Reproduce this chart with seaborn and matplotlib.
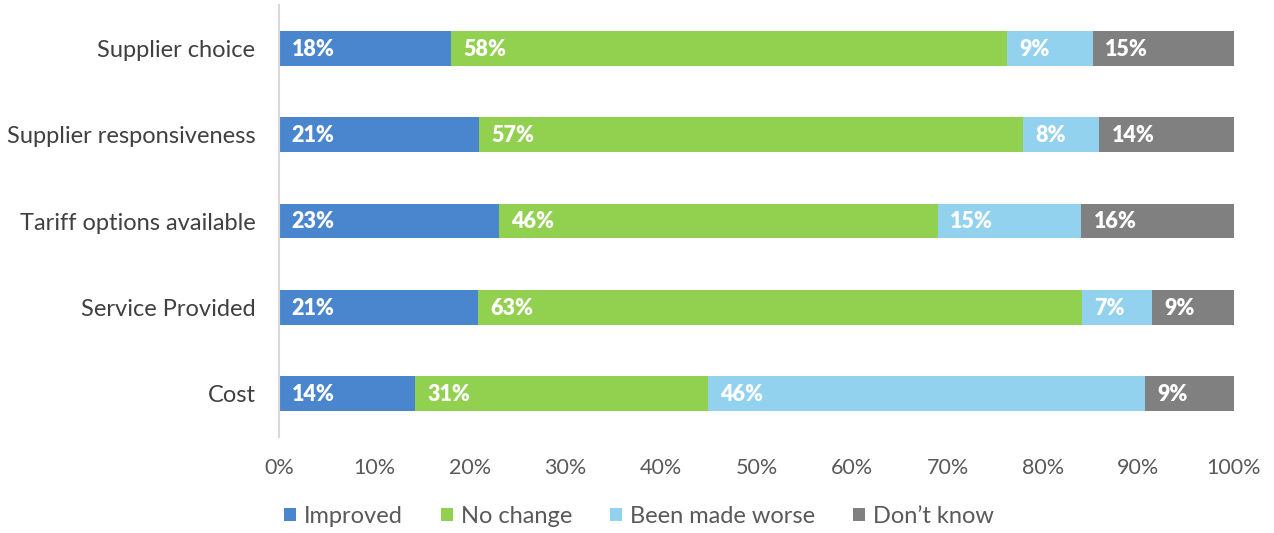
import matplotlib
matplotlib.use("Agg")
import matplotlib.pyplot as plt
import seaborn as sns
import pandas as pd
import numpy as np

categories = ["Supplier choice", "Supplier responsiveness", "Tariff options available",
              "Service Provided", "Cost"]
improved = [18.0, 20.9, 23.0, 20.8, 14.2]
no_change = [58.2, 57.0, 46.0, 63.3, 30.7]
made_worse = [9.0, 8.0, 15.0, 7.3, 45.8]
dont_know = [14.8, 14.1, 16.0, 8.6, 9.3]
improved_lbl = [18, 21, 23, 21, 14]
no_change_lbl = [58, 57, 46, 63, 31]
made_worse_lbl = [9, 8, 15, 7, 46]
dont_know_lbl = [15, 14, 16, 9, 9]
series_names = ["Improved", "No change", "Been made worse", "Don\u2019t know"]
colors = ["#4A86CE", "#92D050", "#92D2EE", "#808080"]
xticks = [0, 10, 20, 30, 40, 50, 60, 70, 80, 90, 100]

sns.set_theme(style="white")
plt.rcParams['font.family'] = ['Lato', 'DejaVu Sans']

fig = plt.figure(figsize=(12.74, 5.33), dpi=100)
ax = fig.add_axes([279/1274, 1 - 437/533, (1234-279)/1274, (437-5)/533])

series = [improved, no_change, made_worse, dont_know]
labels = [improved_lbl, no_change_lbl, made_worse_lbl, dont_know_lbl]
left = np.zeros(len(categories))
for name, vals, lbls, col in zip(series_names, series, labels, colors):
    df = pd.DataFrame({"cat": categories, "val": vals})
    sns.barplot(data=df, y="cat", x="val", orient="h", color=col, left=left,
                width=0.405, ax=ax, label=name, saturation=1, linewidth=0)
    for i, (v, l) in enumerate(zip(vals, lbls)):
        ax.text(left[i] + 1.3, i + 0.01, f"{l}%", va="center", ha="left", color="white",
                fontsize=15.5, fontweight="heavy")
    left = left + np.array(vals)

ax.set_xlim(0, 100)
ax.set_ylim(4.5, -0.5)
ax.set_xticks(xticks)
ax.set_xticklabels([f"{t}%" for t in xticks], fontsize=15.5, color="#595959")
ax.tick_params(axis="y", labelsize=17, labelcolor="#404040", length=0, pad=17)
ax.tick_params(axis="x", length=0, pad=15)
ax.set_xlabel("")
ax.set_ylabel("")
for s in ["top", "right", "bottom"]:
    ax.spines[s].set_visible(False)
ax.spines["left"].set_color("#D9D9D9")
ax.spines["left"].set_linewidth(1.5)

leg = ax.legend(loc="upper center", bbox_to_anchor=(0.377, -0.11), ncol=4, frameon=False,
                fontsize=17, handlelength=0.5, handleheight=0.5, handletextpad=0.35,
                columnspacing=1.6, labelcolor="#595959")

fig.savefig("out.png", dpi=100)
